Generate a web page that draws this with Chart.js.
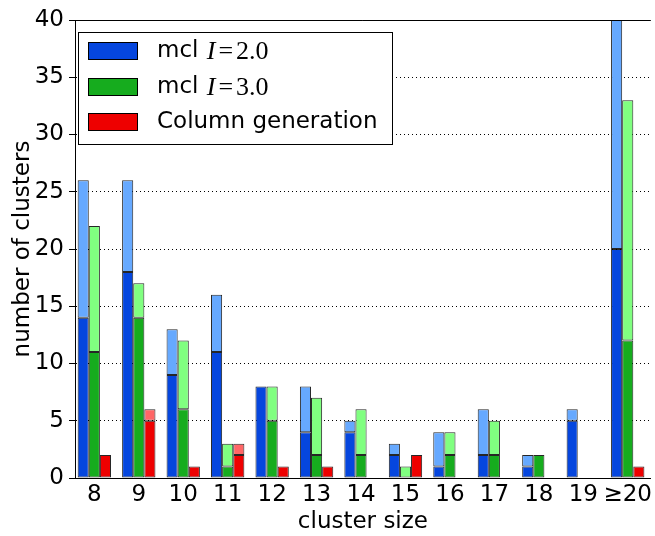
<!DOCTYPE html>
<html>
<head>
<meta charset="utf-8">
<script src="https://cdn.jsdelivr.net/npm/chart.js@4"></script>
<style>
  html, body { margin: 0; padding: 0; background: #fff; overflow: hidden; }
  canvas { display: block; }
</style>
</head>
<body>
<canvas id="myChart" width="655" height="536"></canvas>
<script>
const categories = ["8", "9", "10", "11", "12", "13", "14", "15", "16", "17", "18", "19", "\u226520"];
const seriesLabels = ["mcl I=2.0", "mcl I=3.0", "Column generation"];

// dark part = lower segment, total = top of the light segment
const mcl2Dark = [14, 18, 9, 11, 8, 4, 4, 2, 1, 2, 1, 5, 20];
const mcl2Total = [26, 26, 13, 16, 8, 8, 5, 3, 4, 6, 2, 6, 42];
const mcl3Dark = [11, 14, 6, 1, 5, 2, 2, 0, 2, 2, 2, 0, 12];
const mcl3Total = [22, 17, 12, 3, 8, 7, 6, 1, 4, 5, 2, 0, 33];
const cgDark = [2, 5, 1, 2, 1, 1, 0, 2, 0, 0, 0, 0, 1];
const cgTotal = [2, 6, 1, 3, 1, 1, 0, 2, 0, 0, 0, 0, 1];

const yTicks = [0, 5, 10, 15, 20, 25, 30, 35, 40];

const colors = {
    blue: ["#0546de", "#66a9ff"],
    green: ["#16ac1e", "#80ff80"],
    red: ["#ee0000", "#ff6666"],
};

const toPoints = (arr) => arr.map((v, i) => ({ x: i, y: v }));
const lightPart = (total, dark) => total.map((t, i) => t - dark[i]);

const makeSet = (label, values, color, stack) => ({
    label: label,
    data: toPoints(values),
    backgroundColor: color,
    borderColor: "rgba(0,0,0,0.85)",
    borderWidth: 1,
    borderSkipped: false,
    stack: stack,
    categoryPercentage: 0.75,
    barPercentage: 1.0,
});

const frame = {
    id: "frame",
    afterDraw(chart) {
        const ctx = chart.ctx;
        const a = chart.chartArea;
        ctx.save();
        ctx.strokeStyle = "#000";
        ctx.lineWidth = 1;
        ctx.beginPath();
        ctx.moveTo(a.left, Math.round(a.top) + 0.5);
        ctx.lineTo(a.right, Math.round(a.top) + 0.5);
        ctx.stroke();

        // legend box in upper left
        const bx = a.left + 3.5, by = a.top + 12.5, bw = 314, bh = 112;
        ctx.fillStyle = "#fff";
        ctx.fillRect(bx, by, bw, bh);
        ctx.strokeRect(bx, by, bw, bh);
        const swatches = [colors.blue[0], colors.green[0], colors.red[0]];
        const rowY = [a.top + 31, a.top + 67, a.top + 102];
        seriesLabels.forEach((lab, i) => {
            const cy = rowY[i];
            ctx.fillStyle = swatches[i];
            ctx.fillRect(a.left + 13.5, cy - 8.5, 49, 17);
            ctx.strokeRect(a.left + 13.5, cy - 8.5, 49, 17);
            ctx.fillStyle = "#000";
            ctx.textBaseline = "middle";
            let x = a.left + 82;
            const m = lab.match(/^(.*?) (I)=(.*)$/);
            if (m) {
                ctx.font = '23px "DejaVu Sans"';
                ctx.fillText(m[1], x, cy);
                x += ctx.measureText(m[1] + " ").width + 1;
                ctx.font = 'italic 26px "Liberation Serif"';
                ctx.fillText(m[2], x, cy + 1);
                x += ctx.measureText(m[2]).width + 3;
                ctx.font = '26px "Liberation Serif"';
                ctx.fillText("=", x, cy + 1);
                x += ctx.measureText("=").width + 3;
                ctx.fillText(m[3], x, cy + 1);
            } else {
                ctx.font = '23px "DejaVu Sans"';
                ctx.fillText(lab, x, cy);
            }
        });
        ctx.restore();
    },
};

Chart.defaults.font.family = "DejaVu Sans";
Chart.defaults.font.size = 23;
Chart.defaults.color = "#000";

const ctx = document.getElementById("myChart");

new Chart(ctx, {
    type: "bar",
    data: {
        datasets: [
            makeSet(seriesLabels[0], mcl2Dark, colors.blue[0], "mcl2"),
            makeSet(seriesLabels[0], lightPart(mcl2Total, mcl2Dark), colors.blue[1], "mcl2"),
            makeSet(seriesLabels[1], mcl3Dark, colors.green[0], "mcl3"),
            makeSet(seriesLabels[1], lightPart(mcl3Total, mcl3Dark), colors.green[1], "mcl3"),
            makeSet(seriesLabels[2], cgDark, colors.red[0], "cg"),
            makeSet(seriesLabels[2], lightPart(cgTotal, cgDark), colors.red[1], "cg"),
        ],
    },
    options: {
        responsive: false,
        animation: false,
        devicePixelRatio: 1,
        layout: { padding: { top: 20, right: 0, left: 0, bottom: 0 } },
        plugins: {
            legend: { display: false },
            tooltip: { enabled: false },
        },
        scales: {
            x: {
                type: "linear",
                min: -0.435,
                max: 12.52,
                offset: false,
                afterFit: (s) => { s.height = 58; },
                afterBuildTicks: (s) => {
                    s.ticks = categories.map((c, i) => ({ value: i }));
                },
                ticks: {
                    autoSkip: false,
                    maxRotation: 0,
                    padding: 3,
                    callback: (v) => categories[v] ?? "",
                },
                grid: { display: false, drawTicks: false },
                border: { display: true, color: "#000", width: 1 },
                title: { display: true, text: "cluster size", padding: { top: 0, bottom: 0 } },
            },
            y: {
                stacked: true,
                min: 0,
                max: 40,
                z: 1,
                afterFit: (s) => { s.width = 75; },
                afterBuildTicks: (s) => {
                    s.ticks = yTicks.map((v) => ({ value: v }));
                },
                ticks: { padding: 5 },
                grid: {
                    color: "#000",
                    lineWidth: 1,
                    tickBorderDash: [],
                    tickLength: 6,
                    tickColor: "#000",
                },
                border: { display: true, color: "#000", width: 1, dash: [1, 3] },
                title: { display: true, text: "number of clusters", padding: { top: 9, bottom: 0 } },
            },
        },
    },
    plugins: [frame],
});
</script>
</body>
</html>
